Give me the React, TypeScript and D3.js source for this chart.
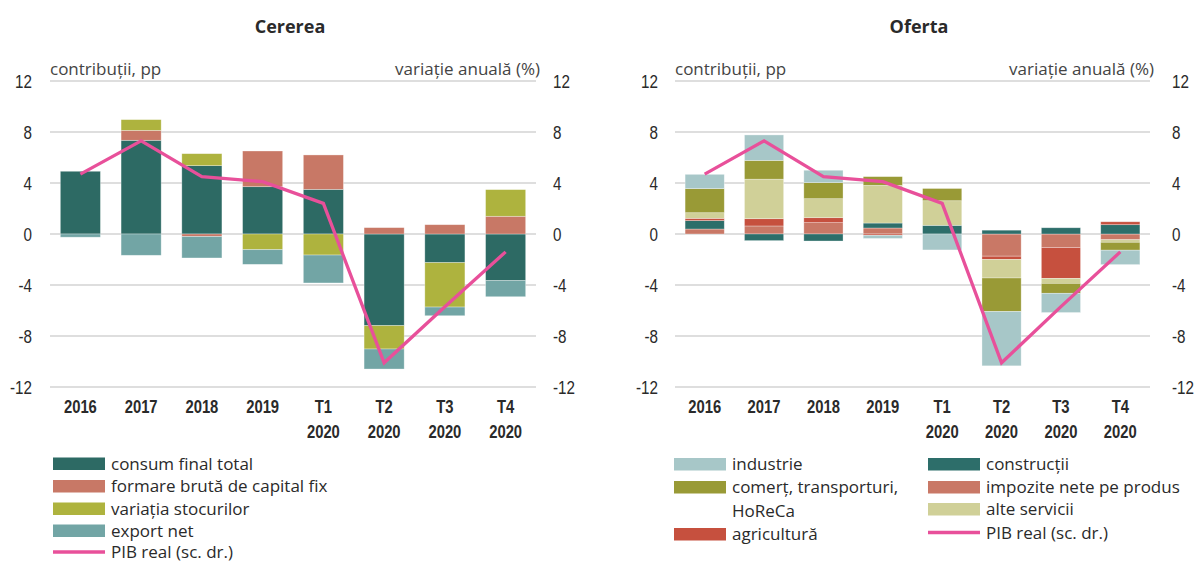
import React from 'react';
import * as d3 from 'd3';

// ---------- data ----------
const catLine1 = ['2016', '2017', '2018', '2019', 'T1', 'T2', 'T3', 'T4'];
const catLine2 = ['', '', '', '', '2020', '2020', '2020', '2020'];
const yTicks = [-12, -8, -4, 0, 4, 8, 12];

const pibReal = [4.7, 7.3, 4.5, 4.1, 2.4, -10.1, -5.7, -1.4];

// Cererea
const consumFinal = [4.92, 7.35, 5.36, 3.71, 3.5, -7.19, -2.25, -3.66];
const formareBruta = [0, 0.78, -0.2, 2.8, 2.7, 0.5, 0.73, 1.39];
const variatiaStocurilor = [0, 0.84, 0.94, -1.23, -1.65, -1.83, -3.48, 2.09];
const exportNet = [-0.25, -1.67, -1.68, -1.15, -2.19, -1.57, -0.68, -1.26];

// Oferta
const impozite = [0.39, 0.63, 0.89, 0.47, 0, -1.74, -1.06, -0.45];
const constructii = [0.66, -0.52, -0.55, 0.39, 0.68, 0.3, 0.49, 0.73];
const agricultura = [0.18, 0.57, 0.39, -0.1, 0, -0.26, -2.42, 0.23];
const alteServicii = [0.44, 3.1, 1.49, 2.96, 1.93, -1.45, -0.39, -0.2];
const comert = [1.89, 1.47, 1.26, 0.68, 0.96, -2.63, -0.78, -0.62];
const industrie = [1.12, 2.0, 0.97, -0.25, -1.25, -4.26, -1.51, -1.13];

const PINK = '#e8509a';

type Series = { name: string; color: string; values: number[] };

const demandSeries: Series[] = [
  { name: 'consum final total', color: '#2d6a64', values: consumFinal },
  { name: 'formare brută de capital fix', color: '#c87866', values: formareBruta },
  { name: 'variația stocurilor', color: '#aeb33e', values: variatiaStocurilor },
  { name: 'export net', color: '#72a5a5', values: exportNet },
];

const supplySeries: Series[] = [
  { name: 'impozite nete pe produs', color: '#c97866', values: impozite },
  { name: 'construcții', color: '#2d6e6a', values: constructii },
  { name: 'agricultură', color: '#c6503e', values: agricultura },
  { name: 'alte servicii', color: '#d0d098', values: alteServicii },
  { name: 'comerț, transporturi, HoReCa', color: '#999a36', values: comert },
  { name: 'industrie', color: '#a7c7c8', values: industrie },
];

const TICK_FONT = '"Liberation Sans", Arial, sans-serif';
const TEXT_FONT = '"Open Sans", "Noto Sans", sans-serif';
const TXT = '#2a2a2a';

function CondText(props: {
  x: number;
  y: number;
  anchor: 'start' | 'middle' | 'end';
  size: number;
  bold?: boolean;
  children: React.ReactNode;
}) {
  const { x, y, anchor, size, bold, children } = props;
  return (
    <text
      transform={`translate(${x},${y}) scale(0.8,1)`}
      dy="0.35em"
      textAnchor={anchor}
      fontFamily={TICK_FONT}
      fontSize={size}
      fontWeight={bold ? 700 : 400}
      fill={TXT}
    >
      {children}
    </text>
  );
}

function Panel(props: {
  title: string;
  titleX: number;
  x0: number;
  x1: number;
  series: Series[];
  leftLabelX: number;
  rightLabelX: number;
}) {
  const { title, titleX, x0, x1, series, leftLabelX, rightLabelX } = props;
  const y = d3.scaleLinear().domain([-12, 12]).range([387, 81]);
  const x = d3
    .scaleBand<string>()
    .domain(catLine1.map((_, i) => String(i)))
    .range([x0, x1])
    .paddingInner(0.34)
    .paddingOuter(0.17);

  const rows = catLine1.map((_, i) => {
    const r: Record<string, number> = {};
    series.forEach((s) => (r[s.name] = s.values[i]));
    return r;
  });
  const stacked = d3
    .stack<Record<string, number>>()
    .keys(series.map((s) => s.name))
    .offset(d3.stackOffsetDiverging)(rows);

  const line = d3
    .line<number>()
    .x((_, i) => (x(String(i)) as number) + x.bandwidth() / 2)
    .y((d) => y(d));

  return (
    <g>
      <text x={titleX} y={33} textAnchor="middle" fontFamily={TEXT_FONT} fontWeight={700} fontSize={18} fill={TXT}>
        {title}
      </text>
      <text x={x0} y={75} fontFamily={TEXT_FONT} fontSize={17} fill="#444">
        contribuții, pp
      </text>
      <text x={x1 + 4} y={75} textAnchor="end" fontFamily={TEXT_FONT} fontSize={17} fill="#444">
        variație anuală (%)
      </text>
      {yTicks.map((t) => (
        <g key={t}>
          <line x1={x0} x2={x1} y1={y(t)} y2={y(t)} stroke="#d3d3d3" strokeWidth={1.6} />
          <CondText x={leftLabelX} y={y(t)} anchor="end" size={19}>
            {t}
          </CondText>
          <CondText x={rightLabelX} y={y(t)} anchor="start" size={19}>
            {t}
          </CondText>
        </g>
      ))}
      {stacked.map((layer, li) => (
        <g key={layer.key} fill={series[li].color}>
          {layer.map((d, i) => {
            const top = y(Math.max(d[0], d[1]));
            const bot = y(Math.min(d[0], d[1]));
            if (bot - top <= 0) return null;
            return (
              <rect
                key={i}
                x={x(String(i))}
                width={x.bandwidth()}
                y={top}
                height={bot - top}
                stroke="#ffffff"
                strokeOpacity={0.45}
                strokeWidth={0.7}
              />
            );
          })}
        </g>
      ))}
      <path d={line(pibReal) || ''} fill="none" stroke={PINK} strokeWidth={3.3} strokeLinejoin="miter" />
      {catLine1.map((c, i) => {
        const cx = (x(String(i)) as number) + x.bandwidth() / 2;
        return (
          <g key={i}>
            <CondText x={cx} y={407} anchor="middle" size={18.5} bold>
              {c}
            </CondText>
            {catLine2[i] && (
              <CondText x={cx} y={432} anchor="middle" size={18.5} bold>
                {catLine2[i]}
              </CondText>
            )}
          </g>
        );
      })}
    </g>
  );
}

function Swatch(props: { x: number; y: number; color: string; label: string; line?: boolean; label2?: string }) {
  const { x, y, color, label, line, label2 } = props;
  return (
    <g>
      {line ? (
        <line x1={x} x2={x + 52} y1={y} y2={y} stroke={color} strokeWidth={3.5} />
      ) : (
        <rect x={x} y={y - 6} width={52} height={12.5} fill={color} />
      )}
      <text x={x + 58} y={y} dy="0.36em" fontFamily={TEXT_FONT} fontSize={17} fill={TXT}>
        {label}
      </text>
      {label2 && (
        <text x={x + 58} y={y + 24} dy="0.36em" fontFamily={TEXT_FONT} fontSize={17} fill={TXT}>
          {label2}
        </text>
      )}
    </g>
  );
}

export default function App() {
  return (
    <svg width={1198} height={563} style={{ position: 'absolute', left: 0, top: 0, background: '#fff' }}>
      <Panel title="Cererea" titleX={290} x0={50} x1={536} series={demandSeries} leftLabelX={32} rightLabelX={553} />
      <Panel title="Oferta" titleX={919} x0={675} x1={1150} series={supplySeries} leftLabelX={658} rightLabelX={1172} />
      {/* left legend */}
      <Swatch x={53} y={463.5} color={demandSeries[0].color} label={demandSeries[0].name} />
      <Swatch x={53} y={486} color={demandSeries[1].color} label={demandSeries[1].name} />
      <Swatch x={53} y={508.5} color={demandSeries[2].color} label={demandSeries[2].name} />
      <Swatch x={53} y={530.5} color={demandSeries[3].color} label={demandSeries[3].name} />
      <Swatch x={53} y={552} color={PINK} label="PIB real (sc. dr.)" line />
      {/* right legend */}
      <Swatch x={674} y={464} color={supplySeries[5].color} label="industrie" />
      <Swatch x={674} y={487} color={supplySeries[4].color} label="comerț, transporturi," label2="HoReCa" />
      <Swatch x={674} y={534} color={supplySeries[2].color} label="agricultură" />
      <Swatch x={928} y={464} color={supplySeries[1].color} label="construcții" />
      <Swatch x={928} y={487} color={supplySeries[0].color} label="impozite nete pe produs" />
      <Swatch x={928} y={509} color={supplySeries[3].color} label="alte servicii" />
      <Swatch x={928} y={532.5} color={PINK} label="PIB real (sc. dr.)" line />
    </svg>
  );
}
